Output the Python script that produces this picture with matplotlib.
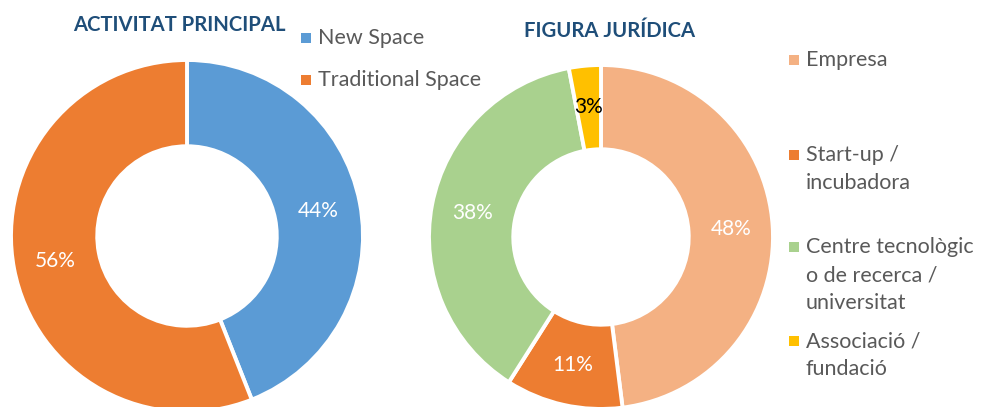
import matplotlib
matplotlib.use("Agg")
import matplotlib.pyplot as plt
from matplotlib.patches import Rectangle

plt.rcParams['font.family'] = ['Lato', 'DejaVu Sans']

# Data
left_title = "ACTIVITAT PRINCIPAL"
left_labels = ["New Space", "Traditional Space"]
left_values = [44, 56]
left_colors = ["#5B9BD5", "#ED7D31"]

right_title = "FIGURA JURÍDICA"
right_labels = ["Empresa", "Start-up /\nincubadora", "Centre tecnològic\no de recerca /\nuniversitat", "Associació /\nfundació"]
right_values = [48, 11, 38, 3]
right_colors = ["#F4B183", "#ED7D31", "#A9D18E", "#FFC000"]
right_pct_colors = ["white", "white", "white", "black"]

W, H = 981, 407
fig = plt.figure(figsize=(W / 100, H / 100), dpi=100)

def add_square_axes(cx, cy, r):
    return fig.add_axes([(cx - r) / W, (H - cy - r) / H, 2 * r / W, 2 * r / H])

def donut(ax, values, colors, pct_colors):
    wedges, texts, autotexts = ax.pie(
        values, colors=colors, startangle=90, counterclock=False,
        autopct=lambda p: f"{p:.0f}%", pctdistance=0.76, radius=1.0,
        wedgeprops=dict(width=0.49, edgecolor="white", linewidth=2.8),
        textprops=dict(fontsize=15))
    for t, c in zip(autotexts, pct_colors):
        t.set_color(c)
    ax.set_xlim(-1, 1)
    ax.set_ylim(-1, 1)
    ax.set_aspect("equal")
    ax.axis("off")
    for w in wedges:
        w.set_clip_on(False)

axL = add_square_axes(187, 236, 176)
donut(axL, left_values, left_colors, ["white", "white"])

axR = add_square_axes(601, 237, 172)
donut(axR, right_values, right_colors, right_pct_colors)

title_color = "#1F4E79"
fig.text(73 / W, 1 - 25 / H, left_title, fontsize=14.6, fontweight="bold",
         color=title_color, ha="left", va="center")
fig.text(524 / W, 1 - 31 / H, right_title, fontsize=14.6, fontweight="bold",
         color=title_color, ha="left", va="center")

legend_color = "#595959"
LEG_FS = 15.5
LINE_H = 28

def legend_entry(x_marker, y_first, label, color):
    s = 10
    fig.patches.append(Rectangle((x_marker / W, 1 - (y_first + s / 2) / H), s / W, s / H,
                                 transform=fig.transFigure, facecolor=color,
                                 edgecolor="none"))
    for i, line in enumerate(label.split("\n")):
        fig.text((x_marker + 17) / W, 1 - (y_first + i * LINE_H) / H, line,
                 fontsize=LEG_FS, color=legend_color, ha="left", va="center")

legend_entry(301, 38, left_labels[0], left_colors[0])
legend_entry(301, 80, left_labels[1], left_colors[1])

right_first_y = [60, 155, 247, 341]
for lab, col, y in zip(right_labels, right_colors, right_first_y):
    legend_entry(789, y, lab, col)

fig.savefig("out.png", dpi=100)
